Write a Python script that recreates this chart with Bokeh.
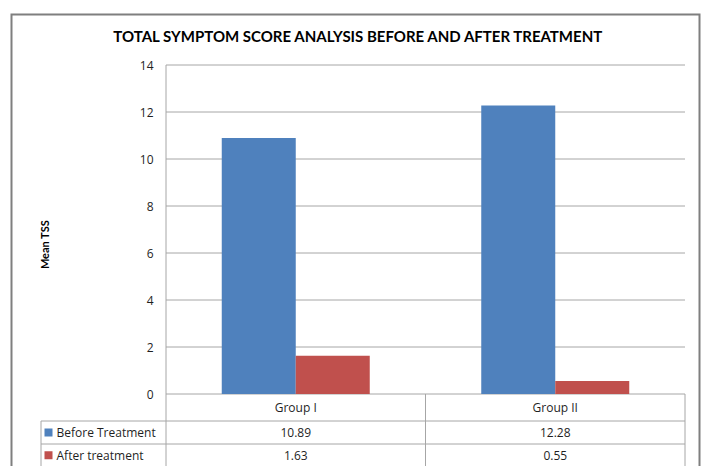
from bokeh.plotting import figure
from bokeh.models import Range1d
from bokeh.core.properties import value
from bokeh.embed import file_html
from bokeh.resources import INLINE

# ---- data ----
categories = ["Group I", "Group II"]
series_names = ["Before Treatment", "After treatment"]
before = [10.89, 12.28]
after = [1.63, 0.55]
y_ticks = [0, 2, 4, 6, 8, 10, 12, 14]
title_text = "TOTAL SYMPTOM SCORE ANALYSIS BEFORE AND AFTER TREATMENT"
y_label = "Mean TSS"
colors = ["#4F81BD", "#C0504D"]

# ---- layout (pixels) ----
W, H = 705, 466
PLOT_L, PLOT_R = 165.5, 684.5
Y0_PX, Y_TOP_PX = 393.5, 64.5
FRAME_L, FRAME_R, FRAME_T, FRAME_B = 10, 700, 13, 466
n = len(categories)
PX_PER_X = (PLOT_R - PLOT_L) / n
PX_PER_Y = (Y0_PX - Y_TOP_PX) / y_ticks[-1]


def X(px):
    return (px - PLOT_L) / PX_PER_X


def Y(py):
    return (Y0_PX - py) / PX_PER_Y


FONT = value("Lato")
TFONT = value("Open Sans")
GRID = "#a6a6a6"
TXT = "#1f1f1f"
TSIZE = "12px"

p = figure(width=W, height=H,
           x_range=Range1d(X(FRAME_L), X(FRAME_R)),
           y_range=Range1d(Y(FRAME_B), Y(FRAME_T)),
           x_axis_type=None, y_axis_type=None,
           toolbar_location=None, output_backend="svg",
           min_border_left=FRAME_L, min_border_right=W - FRAME_R,
           min_border_top=FRAME_T, min_border_bottom=H - FRAME_B,
           outline_line_color=None)
p.background_fill_color = "white"
p.border_fill_color = "white"

# gridlines
p.segment(x0=[0] * len(y_ticks), x1=[n] * len(y_ticks), y0=y_ticks, y1=y_ticks,
          line_color=GRID, line_width=1)

# bars
bw = 74 / PX_PER_X
xb = [i + 0.5 - bw / 2 for i in range(n)]
xa = [i + 0.5 + bw / 2 for i in range(n)]
p.vbar(x=xb, top=before, width=bw, bottom=0, fill_color=colors[0], line_color=None)
p.vbar(x=xa, top=after, width=bw, bottom=0, fill_color=colors[1], line_color=None)

# axis line / table verticals
row1, row2, row3 = Y(420.5), Y(443.5), Y(FRAME_B)
p.segment(x0=[0], x1=[0], y0=[row1], y1=[y_ticks[-1]], line_color=GRID)
p.segment(x0=list(range(1, n + 1)), x1=list(range(1, n + 1)),
          y0=[0] * n, y1=[row3] * n, line_color=GRID)
p.segment(x0=[0], x1=[0], y0=[row1], y1=[row3], line_color=GRID)
p.segment(x0=[X(40.5)], x1=[X(40.5)], y0=[row1], y1=[row3], line_color=GRID)
p.segment(x0=[X(40.5)] * 2, x1=[n] * 2, y0=[row1, row2], y1=[row1, row2], line_color=GRID)

# y tick labels
p.text(x=[X(153)] * len(y_ticks), y=y_ticks, text=[str(t) for t in y_ticks],
       text_font=TFONT, text_font_size=TSIZE, text_align="right",
       text_baseline="middle", text_color=TXT)

# y axis label
p.text(x=[X(44)], y=[Y(244)], text=[y_label], angle=1.5708,
       text_font=FONT, text_font_size="11px", text_font_style="bold",
       text_align="center", text_baseline="middle", text_color="#000000")

# title
p.text(x=[X(358.5)], y=[Y(35)], text=[title_text],
       text_font=FONT, text_font_size="15px", text_font_style="bold",
       text_align="center", text_baseline="middle", text_color="#000000")

# table: header
cx = [i + 0.5 for i in range(n)]
hdr_y = (0 + row1) / 2
r1_y = (row1 + row2) / 2
r2_y = (row2 + row3) / 2
p.text(x=cx, y=[hdr_y] * n, text=categories, text_font=TFONT, text_font_size=TSIZE,
       text_align="center", text_baseline="middle", text_color=TXT)
p.text(x=cx, y=[r1_y] * n, text=[f"{v:.2f}" for v in before], text_font=TFONT,
       text_font_size=TSIZE, text_align="center", text_baseline="middle", text_color=TXT)
p.text(x=cx, y=[r2_y] * n, text=[f"{v:.2f}" for v in after], text_font=TFONT,
       text_font_size=TSIZE, text_align="center", text_baseline="middle", text_color=TXT)

# legend keys in table
p.scatter(x=[X(48)] * 2, y=[r1_y, r2_y], marker="square", size=8,
          fill_color=colors, line_color=None)
p.text(x=[X(56)] * 2, y=[r1_y, r2_y], text=series_names, text_font=TFONT,
       text_font_size=TSIZE, text_align="left", text_baseline="middle", text_color=TXT)

# outer border (frame edges from ranges)
xr, yr = p.x_range, p.y_range
p.line(x=[xr.start, xr.start, xr.end, xr.end], y=[yr.start, yr.end, yr.end, yr.start],
       line_color="#7f7f7f", line_width=4)

open("out.html", "w").write(file_html(p, INLINE))
